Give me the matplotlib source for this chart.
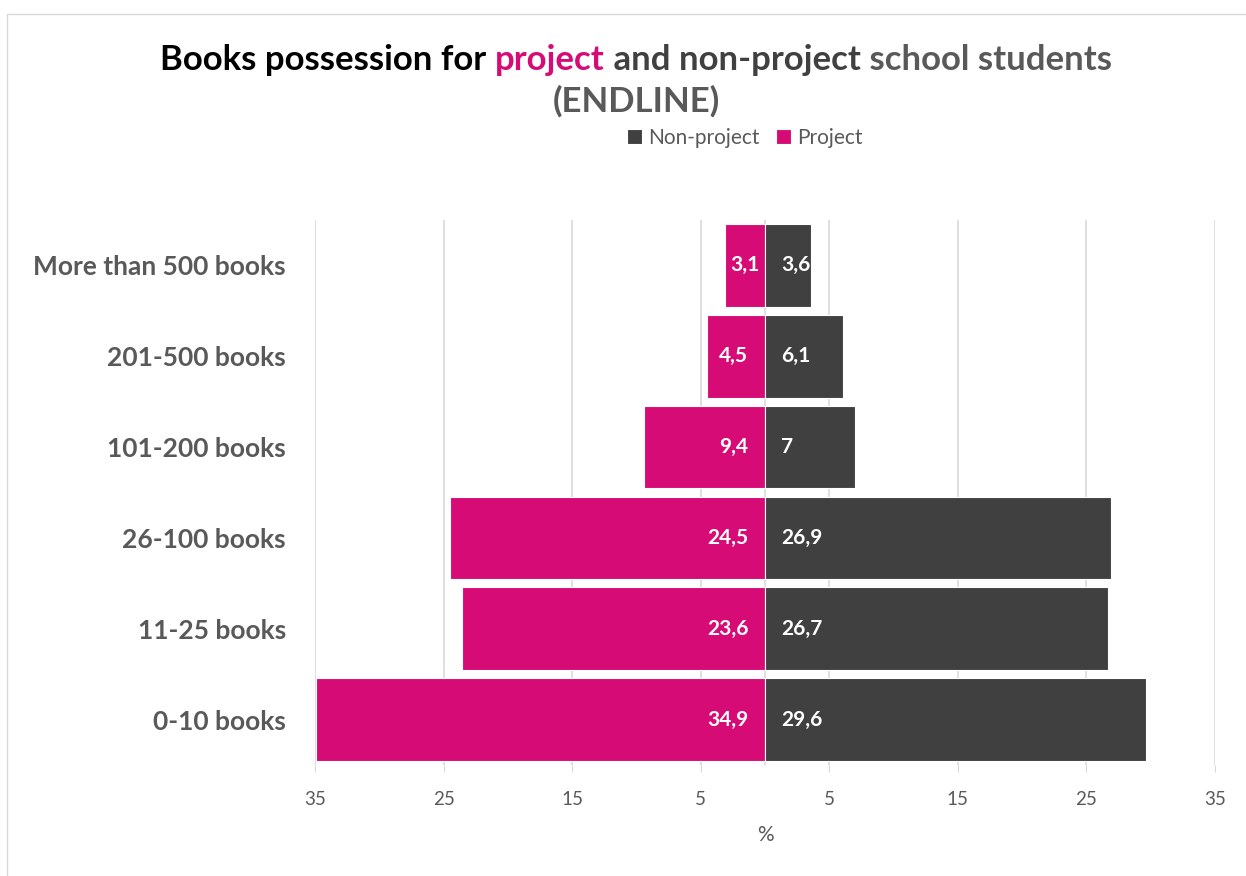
import matplotlib.pyplot as plt
from matplotlib.patches import Rectangle

plt.rcParams['font.family'] = ['Lato', 'DejaVu Sans']

categories = ['0-10 books', '11-25 books', '26-100 books', '101-200 books',
              '201-500 books', 'More than 500 books']
project = [34.9, 23.6, 24.5, 9.4, 4.5, 3.1]
non_project = [29.6, 26.7, 26.9, 7, 6.1, 3.6]
tick_vals = [-35, -25, -15, -5, 5, 15, 25, 35]

PINK = '#D60B75'
DARK = '#404040'
GRAY = '#595959'


def fmt(v):
    s = ('%g' % v)
    return s.replace('.', ',')


fig = plt.figure(figsize=(12.46, 8.76), dpi=100)
fig.patches.append(Rectangle((0.006, -0.01), 1.5, 0.994, transform=fig.transFigure,
                             fill=False, edgecolor='#D9D9D9', linewidth=1))

ax = fig.add_axes([0.2528, 0.1267, 0.7223, 0.6221])
y = list(range(len(categories)))

ax.barh(y, [-v for v in project], height=0.91, color=PINK, edgecolor='white',
        linewidth=0.8, label='Project', zorder=3)
ax.barh(y, non_project, height=0.91, color=DARK, edgecolor='white',
        linewidth=0.8, label='Non-project', zorder=3)

for i in y:
    # narrow bars: centre the label in the bar so it fits
    if project[i] < 4:
        ax.text(-project[i] / 2, i, fmt(project[i]), ha='center', va='center',
                color='white', fontsize=15, fontweight='bold', zorder=4)
    else:
        ax.annotate(fmt(project[i]), (0, i), xytext=(-12, 0), textcoords='offset points',
                    ha='right', va='center', color='white', fontsize=15,
                    fontweight='bold', zorder=4)
    ax.annotate(fmt(non_project[i]), (0, i), xytext=(11.5, 0), textcoords='offset points',
                ha='left', va='center', color='white', fontsize=15,
                fontweight='bold', zorder=4)

ax.set_xlim(-35, 35)
ax.set_ylim(-0.5, len(categories) - 0.5)
ax.set_xticks(tick_vals)
ax.set_xticklabels([str(abs(t)) for t in tick_vals])
ax.set_yticks(y)
ax.set_yticklabels(categories, fontsize=19, fontweight='bold', color=GRAY)
ax.tick_params(axis='y', length=0, pad=21)
ax.tick_params(axis='x', colors='#D9D9D9', labelcolor=GRAY, labelsize=13.5,
               length=5, pad=14)
for t in tick_vals:
    ax.axvline(t, color='#D9D9D9', linewidth=1.2, zorder=1)
ax.axvline(0, color='#D9D9D9', linewidth=1.2, zorder=2)
for s in ax.spines.values():
    s.set_visible(False)
ax.set_xlabel('%', color=GRAY, fontsize=15, labelpad=12)

# legend
h, l = ax.get_legend_handles_labels()
fig.legend(h[::-1], l[::-1], loc='center', bbox_to_anchor=(0.598, 0.843),
           ncol=2, frameon=False, fontsize=15, labelcolor=GRAY,
           handlelength=0.7, handleheight=0.7, handletextpad=0.3,
           columnspacing=0.8)

# multi-coloured title
parts = [('Books possession for ', 'black'), ('project', PINK),
         (' and non-project', DARK), (' school students', GRAY)]
fig.canvas.draw()
r = fig.canvas.get_renderer()
texts = []
for s, c in parts:
    t = fig.text(0, 0.932, s, color=c, fontsize=25, fontweight='bold',
                 ha='left', va='center')
    texts.append(t)
widths = [t.get_window_extent(r).width for t in texts]
total = sum(widths)
x0 = (636 - total / 2)
for t, w in zip(texts, widths):
    t.set_x(x0 / fig.bbox.width)
    x0 += w
fig.text(636 / 1246, 0.884, '(ENDLINE)', color=GRAY, fontsize=25,
         fontweight='bold', ha='center', va='center')

fig.savefig('out.png', dpi=100)
